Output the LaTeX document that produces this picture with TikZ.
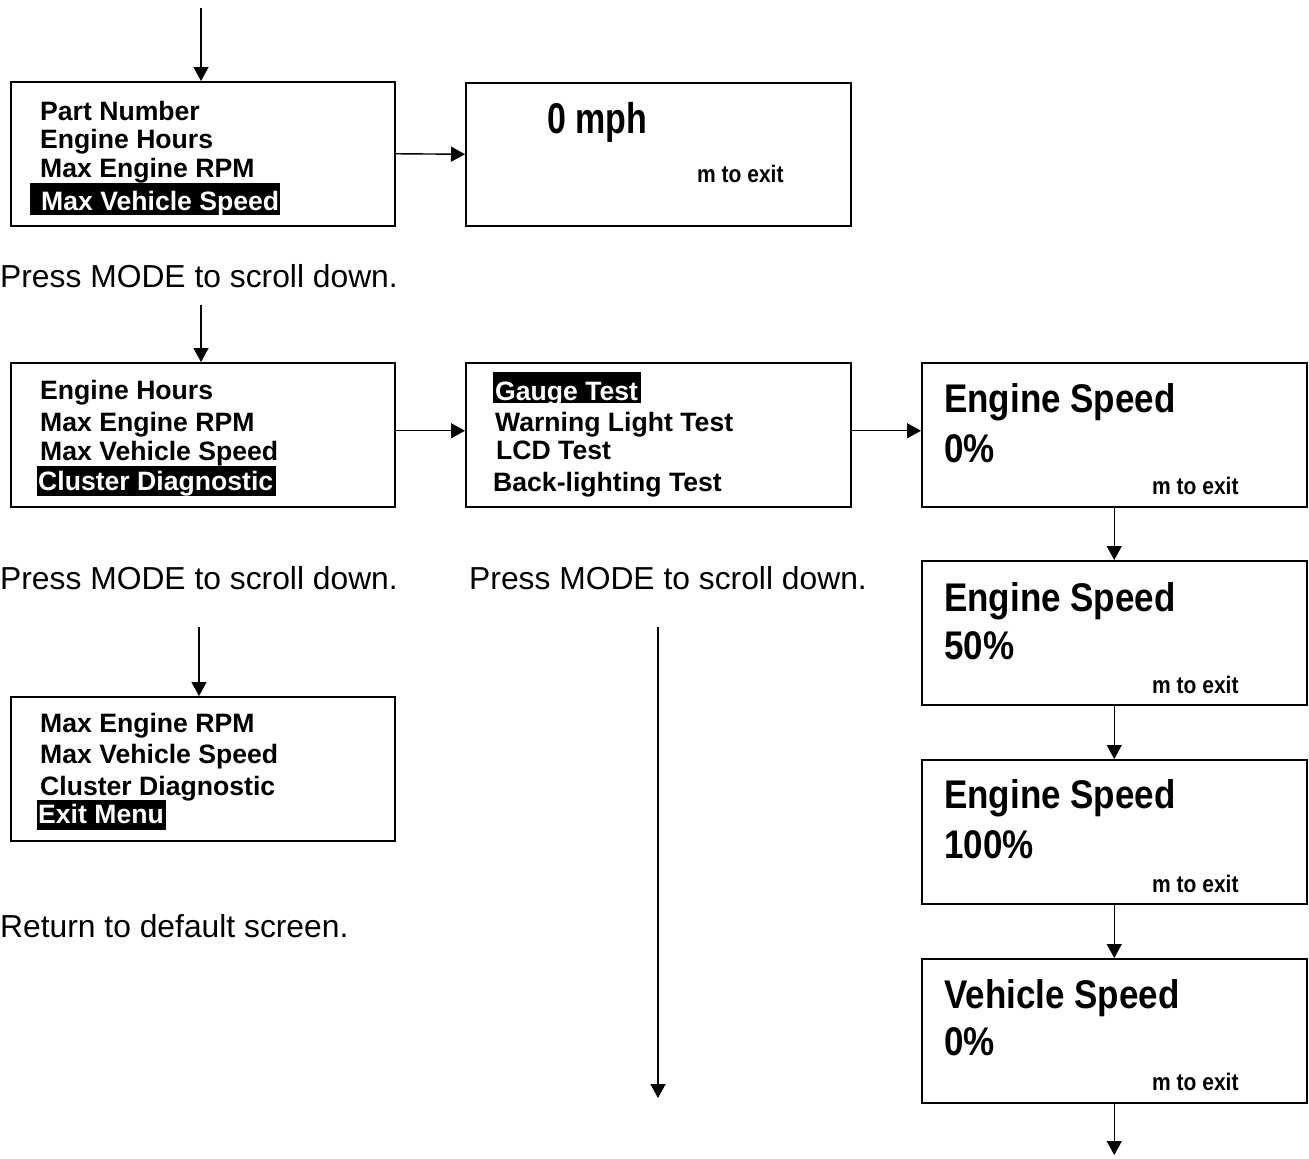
\documentclass[tikz,border=0pt]{standalone}
\usepackage{fontspec}
\setmainfont{Liberation Sans}
\newfontfamily\nbA[FakeStretch=0.875]{Liberation Sans}
\newfontfamily\nbB[FakeStretch=0.79]{Liberation Sans}
\usetikzlibrary{arrows.meta}
\tikzset{
  box/.style={draw, line width=1.5bp, rectangle, anchor=north west, minimum width=384bp, minimum height=144bp, inner sep=0pt},
  arr/.style={line width=1.4bp, -{Triangle[width=15bp,length=14bp]}},
  menu/.style={anchor=base west, inner sep=0pt, font=\fontsize{26.6bp}{28bp}\selectfont\bfseries},
  hl/.style={menu, text=white},
  big/.style={anchor=base west, inner sep=0pt, font=\nbA\fontsize{40bp}{42bp}\selectfont\bfseries},
  bigB/.style={anchor=base west, inner sep=0pt, font=\nbB\fontsize{43bp}{45bp}\selectfont\bfseries},
  small/.style={anchor=base west, inner sep=0pt, font=\nbA\fontsize{24bp}{26bp}\selectfont\bfseries},
  note/.style={anchor=base west, inner sep=0pt, font=\fontsize{31.8bp}{34bp}\selectfont},
}
\begin{document}
\begin{tikzpicture}[x=1bp,y=-1bp]
\useasboundingbox (0,0) rectangle (1309,1158);
% boxes
\node[box] (A) at (10,81) {};
\node[box, minimum width=385bp, minimum height=143bp] (B) at (465,82) {};
\node[box] (C) at (10,362) {};
\node[box, minimum width=385bp] (D) at (465,362) {};
\node[box, minimum width=385bp] (E) at (921,362) {};
\node[box, minimum width=385bp] (F) at (921,560) {};
\node[box, minimum width=385bp] (G) at (921,759) {};
\node[box, minimum width=385bp] (H) at (921,958) {};
\node[box] (I) at (10,696) {};
% highlights
\fill (30,183) rectangle (280,215);
\fill (37,466) rectangle (276,496);
\fill (493,372) rectangle (641,403);
\fill (37,800) rectangle (166,830);
% box A
\node[menu] (a1) at (40,120) {Part Number};
\node[menu] (a2) at (40,148) {Engine Hours};
\node[menu] (a3) at (40,177) {Max Engine RPM};
\node[hl] (a4) at (41,210) {Max Vehicle Speed};
% box B
\node[bigB] (b1) at (547,133) {0 mph};
\node[small] (b2) at (697,182) {m to exit};
% box C
\node[menu] (c1) at (40,399) {Engine Hours};
\node[menu] (c2) at (40,431) {Max Engine RPM};
\node[menu] (c3) at (40,460) {Max Vehicle Speed};
\node[hl] (c4) at (38,490) {Cluster Diagnostic};
% box D
\node[hl] (d1) at (495,400) {Gauge Test};
\node[menu] (d2) at (495,431) {Warning Light Test};
\node[menu] (d3) at (496,459) {LCD Test};
\node[menu] (d4) at (493,491) {Back-lighting Test};
% box E
\node[big] (e1) at (944,412) {Engine Speed};
\node[big] (e2) at (944,462) {0\%};
\node[small] (e3) at (1152,494) {m to exit};
% box F
\node[big] (f1) at (944,611) {Engine Speed};
\node[big] (f2) at (944,659) {50\%};
\node[small] (f3) at (1152,693) {m to exit};
% box G
\node[big] (g1) at (944,808) {Engine Speed};
\node[big] (g2) at (944,858) {100\%};
\node[small] (g3) at (1152,892) {m to exit};
% box H
\node[big] (h1) at (944,1008) {Vehicle Speed};
\node[big] (h2) at (944,1055) {0\%};
\node[small] (h3) at (1152,1090) {m to exit};
% box I
\node[menu] (i1) at (40,732) {Max Engine RPM};
\node[menu] (i2) at (40,763) {Max Vehicle Speed};
\node[menu] (i3) at (40,795) {Cluster Diagnostic};
\node[hl] (i4) at (38,823) {Exit Menu};
% notes
\node[note] (n1) at (0,287) {Press MODE to scroll down.};
\node[note] (n2) at (0,589) {Press MODE to scroll down.};
\node[note] (n3) at (469,589) {Press MODE to scroll down.};
\node[note] (n4) at (0,937) {Return to default screen.};
% connectors
\coordinate (t0) at (201,8);
\coordinate (c0) at (201,305);
\coordinate (i0) at (199,627);
\coordinate (l0) at (658,627);
\coordinate (l1) at (658,1098);
\coordinate (hend) at (0,1155);
\draw[arr] (t0) -- (t0 |- A.north);
\draw[arr] (A.east) -- (B.west);
\draw[arr] (c0) -- (c0 |- C.north);
\draw[arr] ([yshift=4bp]C.east) -- ([yshift=4bp]D.west);
\draw[arr] ([yshift=4bp]D.east) -- ([yshift=4bp]E.west);
\draw[arr] (E.south) -- (F.north);
\draw[arr] (F.south) -- (G.north);
\draw[arr] (G.south) -- (H.north);
\draw[arr] (H.south) -- (H.south |- hend);
\draw[arr] (i0) -- (i0 |- I.north);
\draw[arr] (l0) -- (l1);
\end{tikzpicture}
\end{document}
